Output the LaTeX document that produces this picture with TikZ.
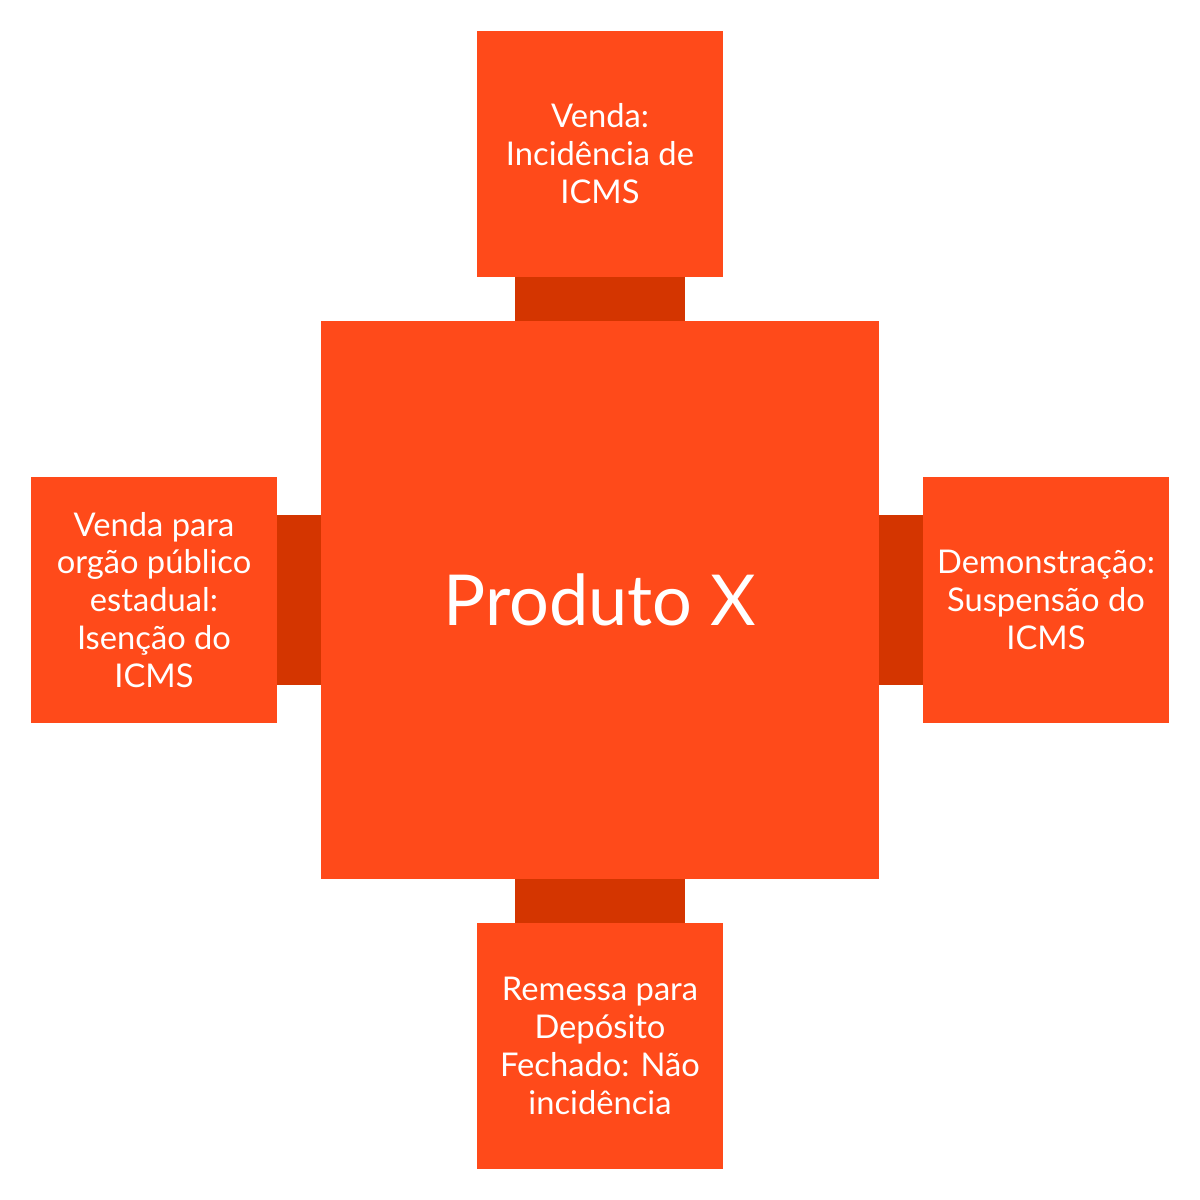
\documentclass[tikz,border=0pt]{standalone}
\usepackage{fontspec}
\setmainfont{Lato}
\usetikzlibrary{positioning}
\definecolor{laranja}{HTML}{FF4A1A}
\definecolor{ponte}{HTML}{D43500}
\begin{document}
\begin{tikzpicture}
        \tikzstyle{caixa} = [rectangle, fill=laranja, text=white, minimum size=2.46cm, inner sep=0pt, outer sep=0pt, align=center, font=\fontsize{9.3}{10.8}\selectfont]
        \tikzstyle{centro} = [rectangle, fill=laranja, text=white, minimum size=5.58cm, outer sep=0pt, font=\fontsize{20}{24}\selectfont]
        \tikzstyle{vlink} = [rectangle, fill=ponte, minimum width=1.7cm, minimum height=0.44cm, inner sep=0pt, outer sep=0pt]
        \tikzstyle{hlink} = [rectangle, fill=ponte, minimum width=0.44cm, minimum height=1.7cm, inner sep=0pt, outer sep=0pt]

                \useasboundingbox (0,0) rectangle (12,-12);

                \node (produto) [centro] at (6,-6) {Produto X};
                \node (l1) [vlink, above=0pt of produto] {};
                \node (l2) [hlink, left=0pt of produto] {};
                \node (l3) [hlink, right=0pt of produto] {};
                \node (l4) [vlink, below=0pt of produto] {};

                \node (venda) [caixa, above=0pt of l1] {Venda:\\Incidência de\\ICMS};
                \node (orgao) [caixa, left=0pt of l2] {Venda para\\orgão público\\estadual:\\Isenção do\\ICMS};
                \node (demo) [caixa, right=0pt of l3] {Demonstração:\\Suspensão do\\ICMS};
                \node (remessa) [caixa, below=0pt of l4] {Remessa para\\Depósito\\Fechado: Não\\incidência};
    \end{tikzpicture}
\end{document}
